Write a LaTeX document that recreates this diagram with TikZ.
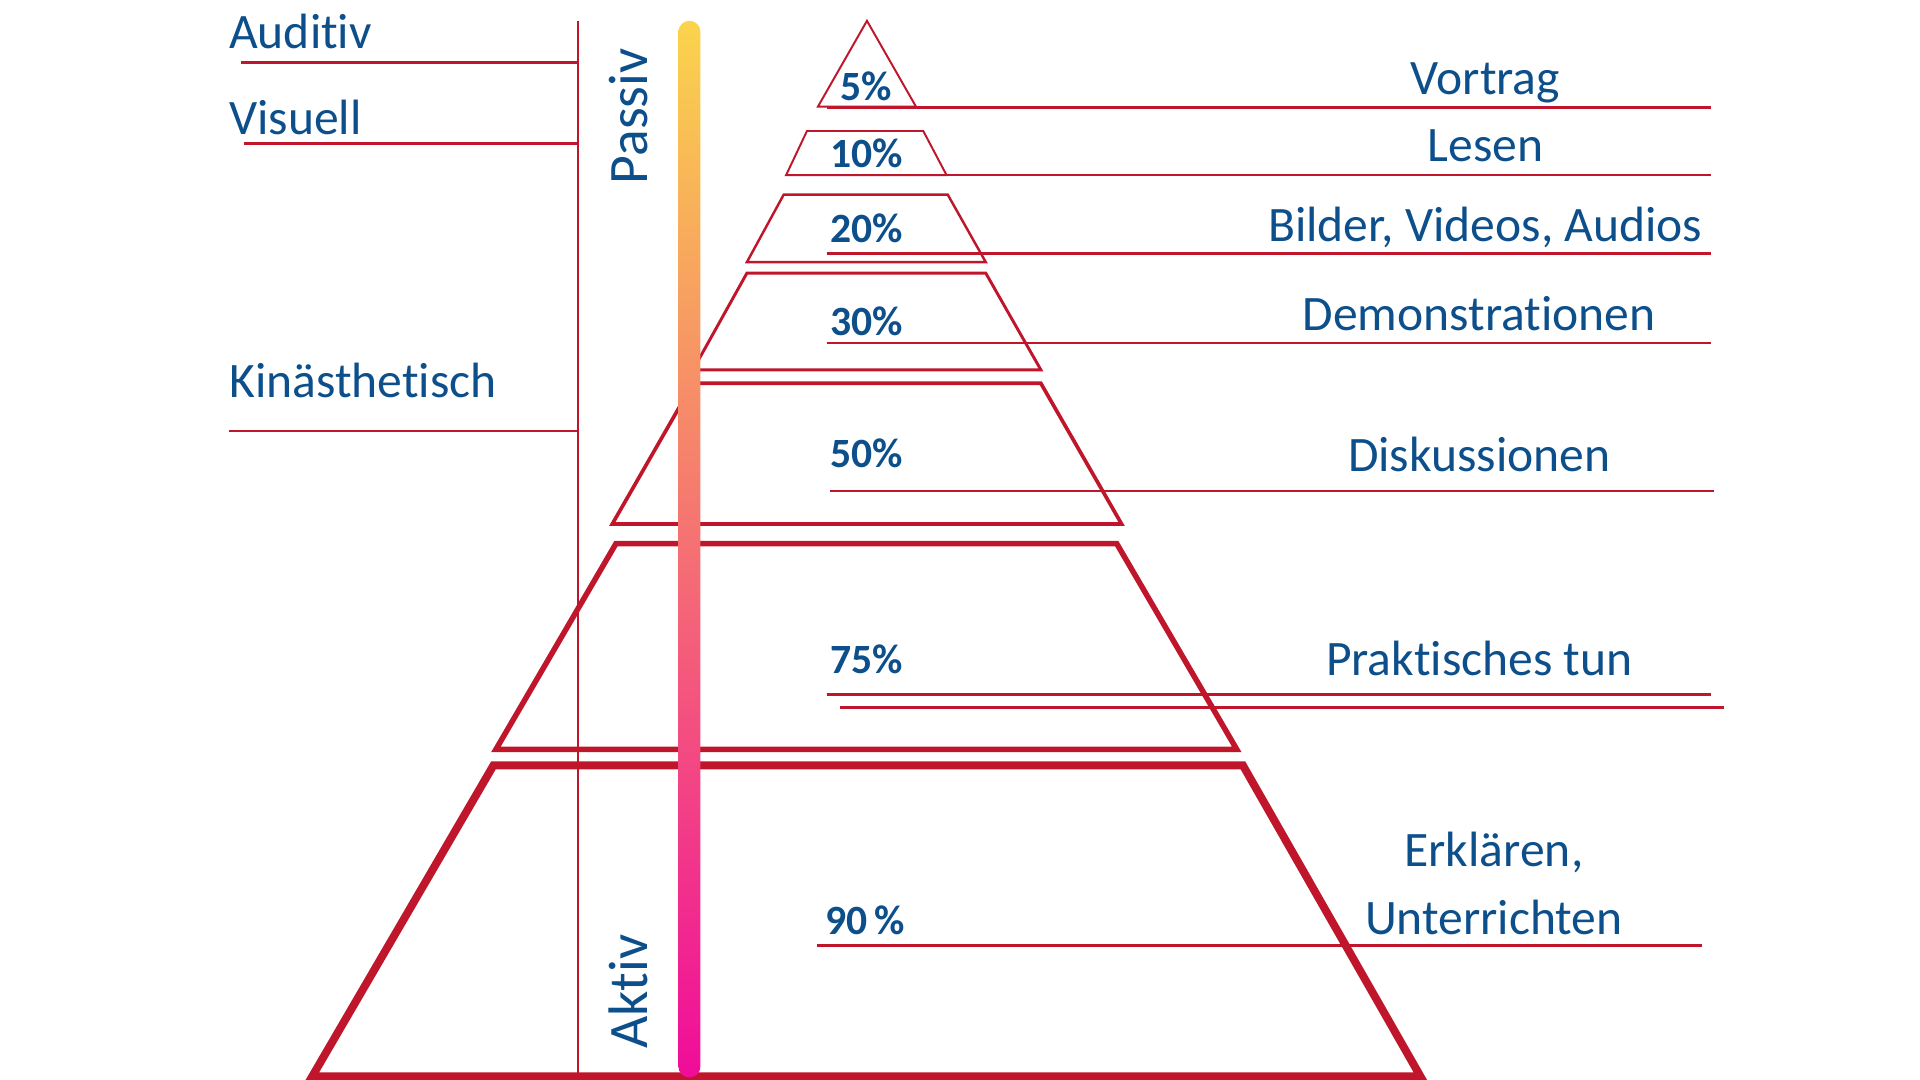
\documentclass[tikz,border=0pt]{standalone}
\usepackage{fontspec}
\setmainfont{Carlito}[Ligatures={TeX,NoCommon}]
\usetikzlibrary{positioning}
\definecolor{pred}{HTML}{C0162C}
\definecolor{pblue}{HTML}{0D4F8B}
\definecolor{gyellow}{HTML}{FAD44C}
\definecolor{gsalmon}{HTML}{F97A70}
\definecolor{gmagenta}{HTML}{F00C9A}

\begin{document}
\begin{tikzpicture}[x=1pt, y=-1pt,
  rule/.style={pred, line width=2.2pt},
  lbl/.style={font=\fontsize{40.5}{42}\selectfont, text=pblue, inner sep=0pt},
  pct/.style={font=\fontsize{34}{36}\selectfont\bfseries, text=pblue, inner sep=0pt, anchor=base west},
  sidelbl/.style={font=\fontsize{45.5}{48}\selectfont, text=pblue, inner sep=0pt, rotate=90}]
\useasboundingbox (0,0) rectangle (1568,882);

% pyramid levels
\draw[pred, line width=1.6pt] (668,87) -- (708,17) -- (748,87) -- cycle;
\draw[pred, line width=1.6pt] (659,107) -- (754,107) -- (773,143) -- (642,143) -- cycle;
\draw[pred, line width=2pt] (640,159) -- (774,159) -- (805,214) -- (610,214) -- cycle;
\draw[pred, line width=2.4pt] (610,223) -- (805,223) -- (850,302) -- (566,302) -- cycle;
\draw[pred, line width=3pt] (566,313) -- (850,313) -- (916,428) -- (500,428) -- cycle;
\draw[pred, line width=4.5pt] (503,444) -- (912,444) -- (1010,612) -- (405,612) -- cycle;
\draw[pred, line width=6.5pt] (403,625) -- (1015,625) -- (1160,879) -- (255,879) -- cycle;

% senses
\draw[pred, line width=1.6pt] (472,17) -- (472,882);
\draw[rule] (197,51) -- (472,51);
\draw[rule] (199,117) -- (472,117);
\draw[rule] (187,352) -- (472,352);
\node[lbl, anchor=base west] (auditiv) at (187,40) {Auditiv};
\node[lbl, anchor=base west] (visuell) at (187,110) {Visuell};
\node[lbl, anchor=base west] (kinaest) at (187,325) {Kinästhetisch};

% passiv -> aktiv
\shade[top color=gyellow, middle color=gsalmon, bottom color=gmagenta, rounded corners=9pt]
  (554,17) rectangle (572,880);
\node[sidelbl] (passiv) at (513,95) {Passiv};
\node[sidelbl] (aktiv) at (513,810) {Aktiv};

% methods
\draw[rule] (675,88) -- (1397,88);
\draw[rule] (675,143) -- (1397,143);
\draw[rule] (675,207) -- (1397,207);
\draw[rule] (675,280) -- (1397,280);
\draw[rule] (678,401) -- (1400,401);
\draw[rule] (675,567) -- (1397,567);
\draw[rule] (686,578) -- (1408,578);
\draw[rule] (667,772) -- (1390,772);

\node[pct] (p5) at (686,82) {5\%};
\node[pct] (p10) at (678,137) {10\%};
\node[pct] (p20) at (678,198) {20\%};
\node[pct] (p30) at (678,274) {30\%};
\node[pct] (p50) at (678,382) {50\%};
\node[pct] (p75) at (678,550) {75\%};
\node[pct] (p90) at (674,763) {90\,\%};

\node[lbl, anchor=base] (vortrag) at (1213,77) {Vortrag};
\node[lbl, anchor=base] (lesen) at (1213,132) {Lesen};
\node[lbl, anchor=base] (bilder) at (1213,197) {Bilder, Videos, Audios};
\node[lbl, anchor=base] (demo) at (1208,270) {Demonstrationen};
\node[lbl, anchor=base] (disk) at (1208,385) {Diskussionen};
\node[lbl, anchor=base] (prakt) at (1208,552) {Praktisches tun};
\node[lbl, anchor=base] (erkl) at (1220,708) {Erklären,};
\node[lbl, anchor=base] (unterr) at (1220,763) {Unterrichten};
\end{tikzpicture}
\end{document}
